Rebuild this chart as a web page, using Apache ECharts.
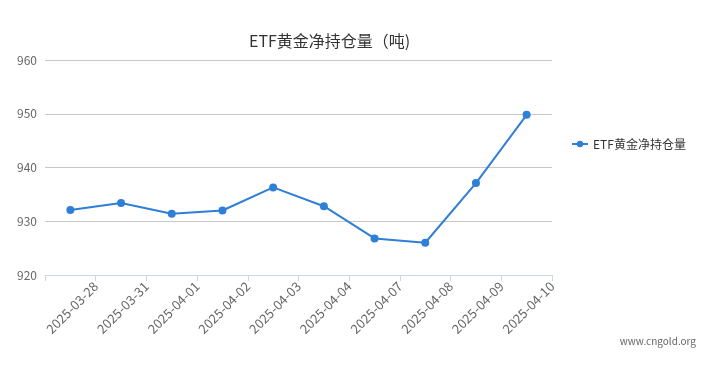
<!DOCTYPE html>
<html>
<head>
<meta charset="utf-8">
<script src="https://cdn.jsdelivr.net/npm/echarts@6/dist/echarts.min.js"></script>
<style>
  html, body { margin: 0; padding: 0; background: #fff; }
  #main { width: 706px; height: 367px; }
</style>
</head>
<body>
<div id="main"></div>
<script>
const dates = ["2025-03-28", "2025-03-31", "2025-04-01", "2025-04-02", "2025-04-03",
  "2025-04-04", "2025-04-07", "2025-04-08", "2025-04-09", "2025-04-10"];
const holdings = [932.1, 933.4, 931.4, 932.0, 936.3, 932.8, 926.8, 926.0, 937.1, 949.8];
const yTicks = [920, 930, 940, 950, 960];

const FONT = "'Noto Sans CJK SC', 'Noto Sans', sans-serif";
const LINE_COLOR = "#2f7ed8";

const chart = echarts.init(document.getElementById("main"));
chart.setOption({
  animation: false,
  textStyle: { fontFamily: FONT },
  title: {
    text: "ETF黄金净持仓量（吨)",
    left: 244,
    top: 28,
    textStyle: { fontSize: 16, fontWeight: "normal", color: "#333", fontFamily: FONT }
  },
  legend: {
    orient: "vertical",
    left: 566,
    top: 133,
    itemWidth: 16,
    itemHeight: 8,
    itemGap: 5,
    textStyle: { fontSize: 12, color: "#333", fontFamily: FONT },
    data: ["ETF黄金净持仓量"]
  },
  grid: { left: 45, right: 154, top: 60, bottom: 92, containLabel: false },
  xAxis: [
    {
      type: "category",
      data: dates,
      boundaryGap: true,
      show: false
    },
    {
      // tick marks and labels sit on the category boundaries
      type: "value",
      min: 0,
      max: dates.length,
      interval: 1,
      position: "bottom",
      axisLine: { show: true, lineStyle: { color: "#ccd6eb" } },
      axisTick: { show: true, length: 6, lineStyle: { color: "#ccd6eb" } },
      splitLine: { show: false },
      axisLabel: {
        rotate: 45,
        margin: 9,
        fontSize: 13,
        color: "#666",
        fontFamily: FONT,
        showMinLabel: true,
        showMaxLabel: true,
        formatter: function (v) { return v >= 1 ? dates[v - 1] : ""; }
      }
    }
  ],
  yAxis: {
    type: "value",
    min: yTicks[0],
    max: yTicks[yTicks.length - 1],
    interval: 10,
    axisLine: { show: false },
    axisTick: { show: false },
    axisLabel: { fontSize: 12, color: "#666", margin: 8, fontFamily: FONT },
    splitLine: { lineStyle: { color: "#c8c8c8" } }
  },
  graphic: [
    {
      type: "text",
      right: 10,
      top: 336,
      style: { text: "www.cngold.org", fontSize: 10, fill: "#666", fontFamily: FONT }
    }
  ],
  series: [
    {
      name: "ETF黄金净持仓量",
      type: "line",
      xAxisIndex: 0,
      data: holdings,
      symbol: "circle",
      symbolSize: 8,
      itemStyle: { color: LINE_COLOR },
      lineStyle: { color: LINE_COLOR, width: 2 }
    }
  ]
});
</script>
</body>
</html>
